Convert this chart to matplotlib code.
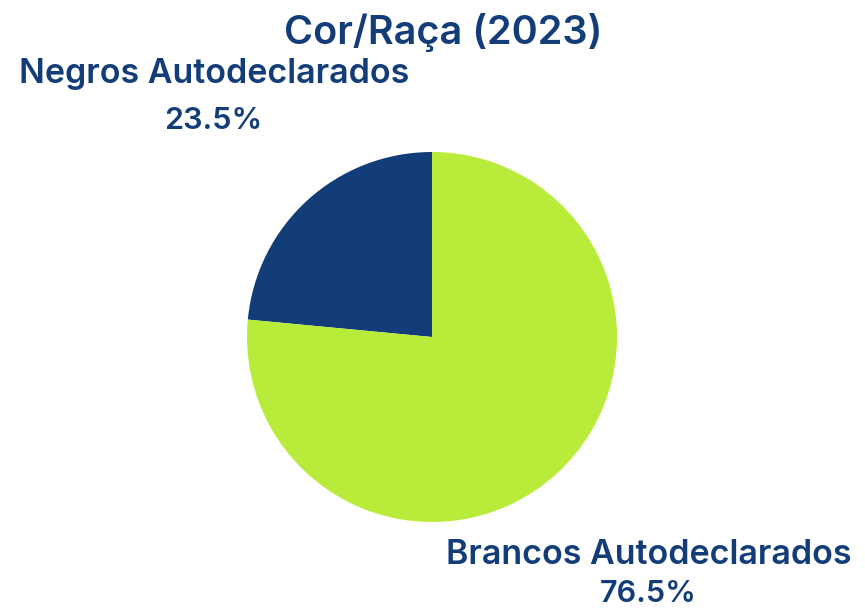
import matplotlib.pyplot as plt

categorias = ["Negros Autodeclarados", "Brancos Autodeclarados"]
valores = [23.5, 76.5]
cores = ["#133d78", "#b9ec3a"]
titulo = "Cor/Raça (2023)"

azul = "#133d78"
plt.rcParams["font.family"] = ["Inter", "DejaVu Sans"]

fig = plt.figure(figsize=(8.65, 6.08), dpi=100)
# pie centered at (432, 337) px with radius 185 px
ax = fig.add_axes([(432 - 185) / 865, (608 - 522) / 608, 370 / 865, 370 / 608])
ax.pie(valores, colors=cores, startangle=90, counterclock=True, radius=1)
ax.set_xlim(-1, 1)
ax.set_ylim(-1, 1)
ax.set_aspect("equal")
ax.axis("off")

# label positions (data coords, relative to radius)
pos = [(-1.18, 1.42, 1.165), (1.17, -1.18, -1.39)]
for cat, v, (x, y1, y2) in zip(categorias, valores, pos):
    ax.text(x, y1, cat, ha="center", va="center", fontsize=24.5,
            fontweight="semibold", color=azul, clip_on=False)
    ax.text(x, y2, f"{v}%", ha="center", va="center", fontsize=22,
            fontweight="semibold", color=azul, clip_on=False)

fig.text(443 / 865, 1 - 33 / 608, titulo, ha="center", va="center",
         fontsize=28.5, fontweight="semibold", color=azul)

fig.savefig("out.png", dpi=100)
